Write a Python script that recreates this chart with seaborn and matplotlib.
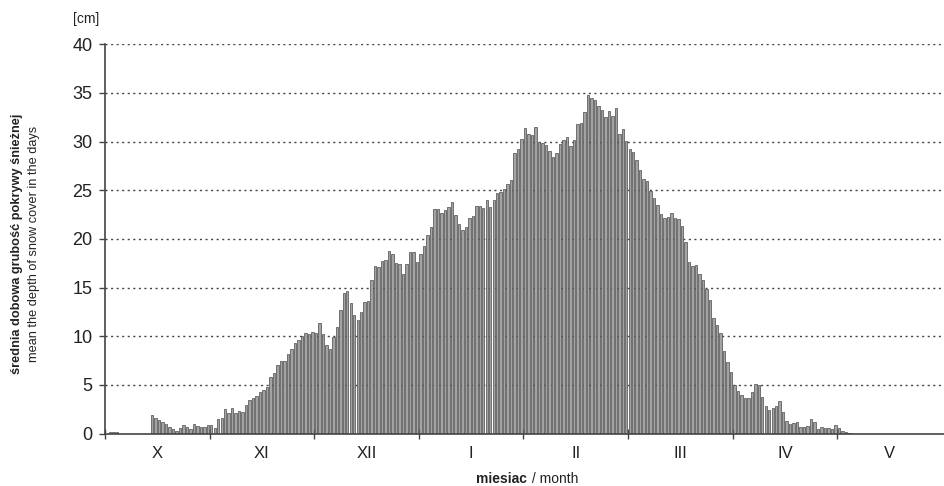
import numpy as np
import pandas as pd
import matplotlib
matplotlib.use('Agg')
import matplotlib.pyplot as plt
import seaborn as sns

# month labels (roman numerals, X = October ... V = May)
months = ['X', 'XI', 'XII', 'I', 'II', 'III', 'IV', 'V']

# mean daily snow depth [cm], 30 values per month
oct_vals = [0, 0.2, 0.2, 0.2, 0, 0, 0, 0, 0, 0, 0, 0, 0,
            1.9, 1.6, 1.4, 1.2, 1.0, 0.7, 0.5, 0.3, 0.6, 0.9, 0.7, 0.5, 1.0, 0.8, 0.7, 0.7, 0.9]
nov_vals = [0.9, 0.6, 1.5, 1.6, 2.5, 2.1, 2.6, 2.1, 2.3, 2.2, 2.9, 3.4, 3.7, 3.9, 4.3,
            4.5, 4.8, 5.8, 6.2, 7.0, 7.4, 7.5, 8.2, 8.7, 9.3, 9.6, 10.0, 10.3, 10.2, 10.4]
dec_vals = [10.3, 11.4, 10.2, 9.1, 8.7, 9.9, 10.9, 12.7, 14.4, 14.6, 13.4, 12.2, 11.7, 12.5, 13.5,
            13.6, 15.8, 17.2, 17.1, 17.7, 17.8, 18.8, 18.4, 17.5, 17.4, 16.4, 17.4, 18.7, 18.6, 17.6]
jan_vals = [18.4, 19.3, 20.4, 21.2, 23.1, 23.1, 22.7, 23.0, 23.3, 23.8, 22.5, 21.5, 20.9, 21.2, 22.1,
            22.3, 23.4, 23.4, 23.2, 24.0, 23.3, 24.0, 24.7, 24.8, 25.1, 25.6, 26.0, 28.8, 29.2, 30.3]
feb_vals = [31.4, 30.8, 30.7, 31.5, 30.0, 29.9, 29.6, 29.0, 28.4, 28.8, 29.7, 30.2, 30.5, 29.5, 30.2,
            31.8, 31.9, 33.0, 34.8, 34.5, 34.3, 33.7, 33.2, 32.5, 33.1, 32.6, 33.4, 30.8, 31.3, 30.1]
mar_vals = [29.2, 28.9, 28.1, 27.1, 26.2, 25.9, 24.9, 24.2, 23.5, 22.6, 22.1, 22.2, 22.7, 22.1, 22.0,
            21.3, 19.7, 17.6, 17.2, 17.3, 16.4, 15.8, 14.9, 13.7, 11.9, 11.1, 10.3, 8.5, 7.3, 6.3]
apr_vals = [5.0, 4.4, 4.0, 3.6, 3.6, 4.3, 5.1, 5.0, 3.8, 2.8, 2.4, 2.6, 2.8, 3.3, 2.2,
            1.3, 1.0, 1.1, 1.2, 0.7, 0.7, 0.8, 1.5, 1.2, 0.5, 0.7, 0.6, 0.6, 0.5, 0.9]
may_vals = [0.6, 0.3, 0.2, 0.1] + [0] * 26

DAYS_PER_MONTH = 30

depth = oct_vals + nov_vals + dec_vals + jan_vals + feb_vals + mar_vals + apr_vals + may_vals
df = pd.DataFrame({'day': np.arange(len(depth)), 'depth': depth})

sns.set_style('ticks')
plt.rcParams['font.family'] = ['Liberation Sans', 'DejaVu Sans']

fig = plt.figure(figsize=(9.45, 4.86), dpi=100)
ax = fig.add_axes([0.111, 0.108, 0.889, 0.801])

# dotted horizontal gridlines behind the bars
for yv in range(5, 45, 5):
    ax.axhline(yv, color='#444444', linestyle=(0, (1.5, 2.5)), linewidth=1.0, zorder=0)

sns.barplot(data=df, x='day', y='depth', color='#a3a3a3', saturation=1, width=0.7,
            edgecolor='#4a4a4a', linewidth=0.5, ax=ax, zorder=2)

n = len(depth)
ax.set_xlim(-0.5, n - 0.5 + 0.9)
ax.set_ylim(0, 40)
ax.set_yticks(range(0, 45, 5))
ax.set_yticklabels([str(v) for v in range(0, 45, 5)], fontsize=13, color='#222222')

# month boundaries as ticks, month names centered in between
bounds = [i * DAYS_PER_MONTH - 0.5 for i in range(len(months) + 1)]
centers = [i * DAYS_PER_MONTH + DAYS_PER_MONTH / 2 - 0.5 for i in range(len(months))]
ax.set_xticks(bounds[:-1])
ax.set_xticklabels([''] * (len(bounds) - 1))
ax.set_xticks(centers, minor=True)
ax.set_xticklabels(months, minor=True, fontsize=12, color='#222222')
ax.tick_params(axis='x', which='major', direction='inout', length=7, width=1, color='#444444')
ax.tick_params(axis='x', which='minor', length=0, pad=9)
ax.tick_params(axis='y', direction='out', length=4, width=1, color='#444444', pad=5)

ax.set_xlabel('')
ax.set_ylabel('')
sns.despine(ax=ax, top=True, right=True)
for side in ('left', 'bottom'):
    ax.spines[side].set_color('#444444')
    ax.spines[side].set_linewidth(1.2)
ax.spines['bottom'].set_zorder(3)

# axis titles
fig.text(17 / 945, 1 - 244 / 486, 'średnia dobowa grubość pokrywy śnieżnej', rotation=90,
         ha='center', va='center', fontsize=9.2, fontweight='bold', color='#222222')
fig.text(34 / 945, 1 - 244 / 486, 'mean the depth of snow cover in the days', rotation=90,
         ha='center', va='center', fontsize=9.2, color='#222222')
fig.text(86 / 945, 1 - 19 / 486, '[cm]', ha='center', va='center', fontsize=10, color='#222222')
fig.text(527 / 945, 1 - 479 / 486, 'miesiac', ha='right', va='center', fontsize=10,
         fontweight='bold', color='#222222')
fig.text(528 / 945, 1 - 479 / 486, ' / month', ha='left', va='center', fontsize=10,
         color='#222222')

fig.savefig('out.png', dpi=100)
plt.close(fig)
